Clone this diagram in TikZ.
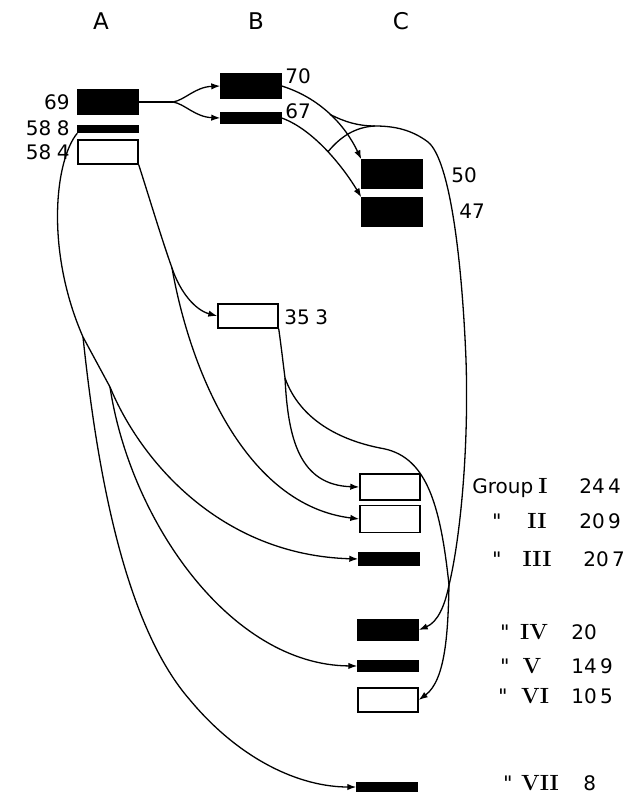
\documentclass[tikz,border=0pt]{standalone}
\usepackage{fontspec}
\setsansfont{DejaVu Sans}
\setmonofont{DejaVu Sans Mono}
\usetikzlibrary{arrows.meta,calc}
\tikzset{
  blk/.style={draw,fill=black,line width=0.7pt,inner sep=0pt,
              minimum width=30pt,minimum height=#1},
  wht/.style={draw,fill=white,line width=0.7pt,inner sep=0pt,
              minimum width=30pt,minimum height=#1},
  num/.style={font=\sffamily\fontsize{10}{12}\selectfont,inner sep=1pt,
              text height=7.3pt,text depth=0pt},
  dit/.style={font=\ttfamily\fontsize{10}{12}\selectfont,inner sep=1pt,
              text height=7.3pt,text depth=0pt},
  rom/.style={font=\rmfamily\bfseries\fontsize{11}{13}\selectfont,inner sep=1pt,
              text height=7.5pt,text depth=0pt},
  hdr/.style={font=\sffamily\fontsize{11.5}{14}\selectfont},
  line/.style={line width=0.65pt},
  flow/.style={-{Latex[length=4.5pt,width=3.2pt]},line width=0.65pt},
}

\begin{document}
\begin{tikzpicture}[x=0.5pt,y=-0.5pt]
\useasboundingbox (0,0) rectangle (630,796);

% ---------------------------------------------------------------- HEADS
\node[hdr] (ha) at (101,21) {A};
\node[hdr] (hb) at (256,21) {B};
\node[hdr] (hc) at (401,21) {C};

% ---------------------------------------------------------------- COLUMN A
\node[blk=12.5pt] (a69)  at (108,102) {};
\node[blk=3.5pt]  (a588) at (108,129) {};
\node[wht=12pt]   (a584) at (108,152) {};
\node[num,anchor=east] (n69)  at (72,102) {69};
\node[num,anchor=east] (n588) at (72,128) {58\;8};
\node[num,anchor=east] (n584) at (72,152) {58\;4};

% ---------------------------------------------------------------- COLUMN B
\node[blk=12.5pt] (b70)  at (251,86) {};
\node[blk=5.5pt]  (b67)  at (251,118) {};
\node[wht=12pt]   (b353) at (248,316) {};
\node[num,anchor=west] (n70)  at (283,76) {70};
\node[num,anchor=west] (n67)  at (283,111) {67};
\node[num,anchor=west] (n353) at (282,317) {35\;3};

% ---------------------------------------------------------------- COLUMN C
\node[blk=14pt] (c50) at (392,174) {};
\node[blk=14pt] (c47) at (392,212) {};
\node[num,anchor=west] (n50) at (449,175) {50};
\node[num,anchor=west] (n47) at (457,211) {47};

% ---------------------------------------------------------------- GROUPS
\node[wht=13pt]   (g1) at (390,487) {};
\node[wht=13.5pt] (g2) at (390,519) {};
\node[blk=6.5pt]  (g3) at (389,559) {};
\node[blk=10pt]   (g4) at (388,630) {};
\node[blk=5.5pt]  (g5) at (388,666) {};
\node[wht=12pt]   (g6) at (388,700) {};
\node[blk=4pt]    (g7) at (387,787) {};

\node[num,anchor=west] (grp) at (470,486) {Group};
\node[rom] (r1) at (543,486) {I};
\node[num,anchor=west] (v1) at (577,486) {24\,4};

\node[dit] (d2) at (497,521) {"};
\node[rom] (r2) at (537,521) {II};
\node[num,anchor=west] (v2) at (577,521) {20\,9};

\node[dit] (d3) at (497,559) {"};
\node[rom] (r3) at (537,559) {III};
\node[num,anchor=west] (v3) at (581,559) {20\,7};

\node[dit] (d4) at (505,632) {"};
\node[rom] (r4) at (534,632) {IV};
\node[num,anchor=west] (v4) at (569,632) {20};

\node[dit] (d5) at (505,666) {"};
\node[rom] (r5) at (532,666) {V};
\node[num,anchor=west] (v5) at (569,666) {14\,9};

\node[dit] (d6) at (503,696) {"};
\node[rom] (r6) at (535,696) {VI};
\node[num,anchor=west] (v6) at (569,696) {10\,5};

\node[dit] (d7) at (508,783) {"};
\node[rom] (r7) at (540,783) {VII};
\node[num,anchor=west] (v7) at (581,783) {8};

% ---------------------------------------------------------------- A to B
\coordinate (s1) at (173,102);
\draw[line] (a69.east) -- (s1);
\draw[flow] (s1) .. controls (185,100) and (195,87) .. (b70.west);
\draw[flow] (s1) .. controls (185,104) and (195,117) .. (b67.west);

% ---------------------------------------------------------------- B to C
\draw[flow] (b70.east) .. controls (320,98) and (345,125) .. (c50.north west)
  coordinate[pos=0.5] (k1);
\draw[flow] (b67.east) .. controls (315,130) and (345,170) .. (c47.north west)
  coordinate[pos=0.5] (k2);

\coordinate (k3) at (375,126);
\coordinate (j) at (449,585);
\draw[line] (k2) .. controls (340,137) and (355,127) .. (k3);
\draw[line] (k1) .. controls (345,122) and (358,126) .. (k3)
  .. controls (395,126) and (412,130) .. (428,142)
  .. controls (450,160) and (462,260) .. (466,360)
  .. controls (469,450) and (460,540) .. (j);

% ---------------------------------------------------------------- 58 4 branch
\coordinate (p1) at (172,268);
\draw[line] (a584.south east) .. controls (150,200) and (162,240) .. (p1);
\draw[flow] (p1) .. controls (180,292) and (195,310) .. (b353.west);
\draw[flow] (p1) .. controls (190,370) and (245,505) .. (g2.west);

% ---------------------------------------------------------------- 58 8 trunk
\coordinate (p2) at (83,337);
\coordinate (p3) at (110,387);
\draw[line] (a588.south west) .. controls (55,160) and (45,250) .. (p2) -- (p3);
\draw[flow] (p2) .. controls (95,450) and (120,620) .. (190,700)
  .. controls (240,760) and (300,787) .. (g7.west);
\draw[flow] (p3) .. controls (140,460) and (220,555) .. (g3.west);
\draw[flow] (p3) .. controls (130,520) and (230,665) .. (g5.west);

% ---------------------------------------------------------------- 35 3 branch
\coordinate (p4) at (285,378);
\draw[line] (b353.south east) .. controls (281,345) and (283,362) .. (p4);
\draw[flow] (p4) .. controls (288,440) and (300,485) .. (g1.west);
\draw[line] (p4) .. controls (300,420) and (340,440) .. (380,448)
  .. controls (425,455) and (440,500) .. (j);

% ---------------------------------------------------------------- to IV, VI
\draw[flow] (j) .. controls (445,605) and (438,622) .. (g4.east);
\draw[flow] (j) .. controls (448,630) and (446,680) .. (g6.east);

\end{tikzpicture}
\end{document}
